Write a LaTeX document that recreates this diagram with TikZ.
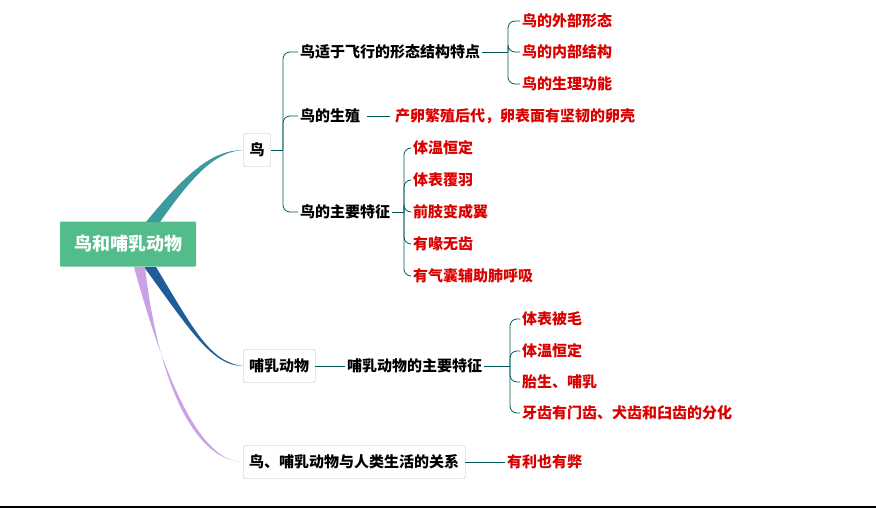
\documentclass[tikz,border=0pt]{standalone}
\usepackage{fontspec}
\setmainfont{Noto Sans CJK SC}
\usetikzlibrary{positioning}
\definecolor{rootgreen}{HTML}{52BD8A}
\definecolor{birdteal}{HTML}{3A9A9E}
\definecolor{mamblue}{HTML}{1F5C99}
\definecolor{relviolet}{HTML}{C9A2E6}
\tikzset{
    x=1pt, y=-1pt,
    every node/.style={font=\fontsize{15}{17}\selectfont\bfseries, inner sep=2pt},
    root node/.style={fill=rootgreen, text=white, minimum height=45pt, minimum width=136pt, font=\fontsize{18}{20}\selectfont\bfseries, rounded corners=1pt},
    box node/.style={draw=gray!50, fill=white, rounded corners=2pt, minimum height=33pt, inner xsep=6pt},
    plain node/.style={anchor=west, text=black},
    red node/.style={anchor=west, text=red!85!black},
    brace/.style={draw=teal!70!black, line width=0.8pt, rounded corners=7pt},
    link/.style={draw=teal!70!black, line width=0.8pt}
}
\begin{document}
\begin{tikzpicture}
    \useasboundingbox (0,0) rectangle (876,509);
    \draw[line width=1.5pt] (0,507) -- (876,507);
    % main nodes
    \node(root)[root node] at (128,244){鸟和哺乳动物};
    \node(bird)[box node] at (257,150){鸟};
    \node(mammal)[box node, anchor=west] at (243,366){哺乳动物};
    \node(relation)[box node, anchor=west] at (243,462){鸟、哺乳动物与人类生活的关系};
    % root branches
    \fill[birdteal] (146,222) .. controls (190,168) and (215,150) .. (bird.west) .. controls (215,152) and (194,174) .. (160,222) -- cycle;
    \fill[mamblue] (144,267) .. controls (190,330) and (212,366) .. (mammal.west) .. controls (210,362) and (194,330) .. (156,267) -- cycle;
    \fill[relviolet] (134,267) .. controls (165,380) and (200,462) .. (relation.west) .. controls (193,460) and (158,380) .. (145,267) -- cycle;
    % bird
    \node(fly)[plain node] at (298,52){鸟适于飞行的形态结构特点};
    \node(breed)[plain node] at (298,116){鸟的生殖};
    \node(feature)[plain node] at (298,212){鸟的主要特征};
    \coordinate(b0) at (283,150);
    \draw[link] (bird.east) -- (b0);
    \foreach \n in {fly,breed,feature} \draw[brace] (b0) |- (\n.west);
    \node(outer)[red node] at (520,21){鸟的外部形态};
    \node(inner)[red node] at (520,52){鸟的内部结构};
    \node(physio)[red node] at (520,84){鸟的生理功能};
    \coordinate(b1) at (508,52);
    \draw[link] (fly.east) -- (b1);
    \foreach \n in {outer,inner,physio} \draw[brace] (b1) |- (\n.west);
    \node(egg)[red node] at (393,116){产卵繁殖后代，卵表面有坚韧的卵壳};
    \draw[link] ([xshift=5pt]breed.east) -- ([xshift=-3pt]egg.west);
    \node(temp)[red node] at (411,148){体温恒定};
    \node(feather)[red node] at (411,180){体表覆羽};
    \node(wing)[red node] at (411,212){前肢变成翼};
    \node(beak)[red node] at (411,244){有喙无齿};
    \node(sac)[red node] at (411,276){有气囊辅助肺呼吸};
    \coordinate(b2) at (404,212);
    \draw[link] (feature.east) -- (b2);
    \foreach \n in {temp,feather,wing,beak,sac} \draw[brace] (b2) |- (\n.west);
    % mammal
    \node(mfeature)[plain node] at (345,366){哺乳动物的主要特征};
    \draw[link] (mammal.east) -- (mfeature.west);
    \node(fur)[red node] at (520,319){体表被毛};
    \node(mtemp)[red node] at (520,351){体温恒定};
    \node(birth)[red node] at (520,382){胎生、哺乳};
    \node(teeth)[red node] at (520,413){牙齿有门齿、犬齿和臼齿的分化};
    \coordinate(b3) at (510,366);
    \draw[link] (mfeature.east) -- (b3);
    \foreach \n in {fur,mtemp,birth,teeth} \draw[brace] (b3) |- (\n.west);
    % relation
    \node(both)[red node] at (505,462){有利也有弊};
    \draw[link] (relation.east) -- (both.west);
\end{tikzpicture}
\end{document}
